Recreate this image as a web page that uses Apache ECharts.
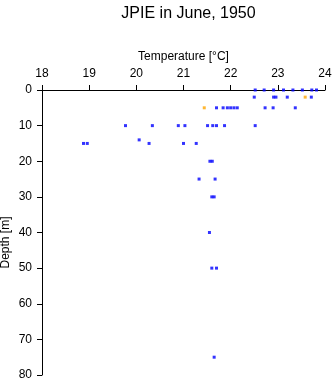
<!DOCTYPE html>
<html>
<head>
<meta charset="utf-8">
<script src="https://cdn.jsdelivr.net/npm/echarts@6/dist/echarts.min.js"></script>
<style>
  html, body { margin: 0; padding: 0; background: #fff; }
  #chart { width: 335px; height: 384px; }
</style>
</head>
<body>
<div id="chart"></div>
<script>
// CTD-style profile: temperature (°C) against depth (m)
const xTicks = [18, 19, 20, 21, 22, 23, 24];
const yTicks = [0, 10, 20, 30, 40, 50, 60, 70, 80];

// Main station casts
const blueDepth = [
  0, 0, 0, 0, 0, 0, 0, 0,
  2, 2, 2, 2, 2,
  5, 5, 5, 5, 5, 5, 5, 5, 5,
  10, 10, 10, 10, 10, 10, 10, 10, 10,
  14,
  15, 15, 15, 15, 15,
  20, 20,
  25, 25,
  30, 30,
  40,
  50, 50,
  75
];
const blueTemp = [
  22.52, 22.71, 22.91, 23.12, 23.32, 23.52, 23.72, 23.82,
  22.50, 22.91, 22.96, 23.20, 23.71,
  21.70, 21.84, 21.93, 22.00, 22.07, 22.14, 22.73, 22.90, 23.37,
  19.77, 20.34, 20.89, 21.03, 21.51, 21.62, 21.70, 21.87, 22.52,
  20.06,
  18.88, 18.96, 20.27, 21.00, 21.27,
  21.56, 21.61,
  21.33, 21.67,
  21.60, 21.65,
  21.55,
  21.60, 21.70,
  21.65
];

// Secondary casts
const orangeDepth = [2, 5];
const orangeTemp = [23.58, 21.44];

const pairs = (t, d) => t.map((v, i) => [v, d[i]]);

const font = 'Liberation Sans, Arial, sans-serif';
const chart = echarts.init(document.getElementById('chart'), null, { renderer: 'canvas' });

chart.setOption({
  animation: false,
  backgroundColor: '#ffffff',
  title: {
    text: 'JPIE in June, 1950',
    left: 183.5,
    textAlign: 'center',
    top: 1,
    textStyle: { fontFamily: font, fontSize: 16, fontWeight: 'normal', color: '#000' }
  },
  grid: { left: 42, top: 90, width: 283, height: 285, containLabel: false, outerBoundsMode: 'none' },
  xAxis: {
    type: 'value',
    position: 'top',
    min: 18, max: 24, interval: 1,
    name: 'Temperature [°C]',
    nameLocation: 'middle',
    nameGap: 27,
    nameMoveOverlap: false,
    nameTextStyle: { fontFamily: font, fontSize: 12, color: '#000' },
    axisLine: { show: true, onZero: false, lineStyle: { color: '#000', width: 1 } },
    axisTick: { show: true, length: 5, inside: false, lineStyle: { color: '#000' } },
    axisLabel: {
      fontFamily: font, fontSize: 12, color: '#000', margin: 10,
      formatter: v => xTicks.includes(v) ? String(v) : ''
    },
    splitLine: { show: false }
  },
  yAxis: {
    type: 'value',
    inverse: true,
    min: 0, max: 80, interval: 10,
    name: 'Depth [m]',
    nameLocation: 'middle',
    nameGap: 30,
    nameMoveOverlap: false,
    nameTextStyle: { fontFamily: font, fontSize: 12, color: '#000', padding: [0, 20, 0, 0] },
    axisLine: { show: true, onZero: false, lineStyle: { color: '#000', width: 1 } },
    axisTick: { show: true, length: 5, inside: false, lineStyle: { color: '#000' } },
    axisLabel: {
      fontFamily: font, fontSize: 12, color: '#000', margin: 10,
      formatter: v => yTicks.includes(v) ? String(v) : ''
    },
    splitLine: { show: false }
  },
  series: [
    {
      type: 'scatter',
      data: pairs(blueTemp, blueDepth),
      symbol: 'rect',
      symbolSize: 3,
      itemStyle: { color: '#0000ff' },
      clip: false
    },
    {
      type: 'scatter',
      data: pairs(orangeTemp, orangeDepth),
      symbol: 'rect',
      symbolSize: 3,
      itemStyle: { color: '#ffa500' },
      clip: false
    }
  ]
});
</script>
</body>
</html>
